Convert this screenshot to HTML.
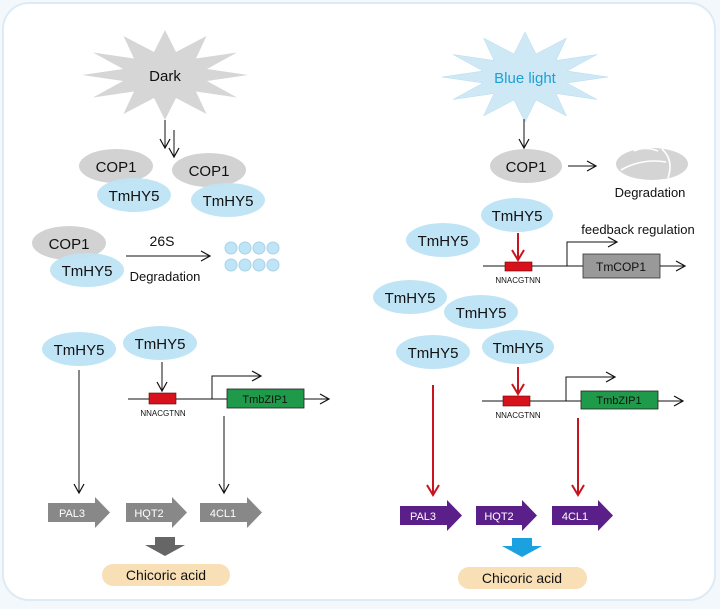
<!DOCTYPE html>
<html><head><meta charset="utf-8"><style>
html,body{margin:0;padding:0;background:#f3f8fc;}
svg{display:block;font-family:"Liberation Sans",Arial,sans-serif;}
</style></head><body>
<svg width="720" height="609" viewBox="0 0 720 609" xmlns="http://www.w3.org/2000/svg">
<defs>
<marker id="a" markerWidth="12" markerHeight="12" refX="10" refY="6" orient="auto" markerUnits="userSpaceOnUse"><path d="M1,1 L10,6 L1,11" fill="none" stroke="#111" stroke-width="1.2"/></marker>
<marker id="r" markerWidth="14" markerHeight="14" refX="11" refY="7" orient="auto" markerUnits="userSpaceOnUse"><path d="M1,1 L11,7 L1,13" fill="none" stroke="#c8141e" stroke-width="2"/></marker>
<g id="star"><polygon points="83,0 42,6 72,22.5 31,16.5 41.5,39 11,23 0,45 -11,23 -41.5,39 -31,16.5 -72,22.5 -42,6 -83,0 -42,-6 -72,-22.5 -31,-16.5 -41.5,-39 -11,-23 0,-45 11,-23 41.5,-39 31,-16.5 72,-22.5 42,-6"/></g>
</defs>
<rect x="3" y="3" width="712" height="597" rx="26" fill="#fff" stroke="#dcebf6" stroke-width="2"/>
<g font-size="15" fill="#111" text-anchor="middle">
<!-- LEFT -->
<use href="#star" transform="translate(165,75)" fill="#d6d6d6"/>
<text x="165" y="81">Dark</text>
<line x1="165" y1="120" x2="165" y2="148" stroke="#111" marker-end="url(#a)"/>
<line x1="174" y1="130" x2="174" y2="157" stroke="#111" marker-end="url(#a)"/>
<ellipse cx="116" cy="166" rx="37" ry="17" fill="#d2d2d2"/>
<ellipse cx="134" cy="195" rx="37" ry="17" fill="#bfe4f6" opacity="0.95"/>
<text x="116" y="172">COP1</text><text x="134" y="201">TmHY5</text>
<ellipse cx="209" cy="170" rx="37" ry="17" fill="#d2d2d2"/>
<ellipse cx="228" cy="200" rx="37" ry="17" fill="#bfe4f6" opacity="0.95"/>
<text x="209" y="176">COP1</text><text x="228" y="206">TmHY5</text>
<ellipse cx="69" cy="243" rx="37" ry="17" fill="#d2d2d2"/>
<ellipse cx="87" cy="270" rx="37" ry="17" fill="#bfe4f6" opacity="0.95"/>
<text x="69" y="249">COP1</text><text x="87" y="276">TmHY5</text>
<line x1="126" y1="256" x2="210" y2="256" stroke="#111" marker-end="url(#a)"/>
<text x="162" y="246" font-size="14">26S</text>
<text x="165" y="281" font-size="13">Degradation</text>
<g fill="#bfe4f6" stroke="#a9d3ea"><circle cx="231" cy="248" r="6"/><circle cx="245" cy="248" r="6"/><circle cx="259" cy="248" r="6"/><circle cx="273" cy="248" r="6"/><circle cx="231" cy="265" r="6"/><circle cx="245" cy="265" r="6"/><circle cx="259" cy="265" r="6"/><circle cx="273" cy="265" r="6"/></g>
<ellipse cx="79" cy="349" rx="37" ry="17" fill="#bfe4f6"/><text x="79" y="355">TmHY5</text>
<ellipse cx="160" cy="343" rx="37" ry="17" fill="#bfe4f6"/><text x="160" y="349">TmHY5</text>
<line x1="162" y1="362" x2="162" y2="391" stroke="#111" marker-end="url(#a)"/>
<line x1="128" y1="399" x2="227" y2="399" stroke="#111"/>
<rect x="149" y="393" width="27" height="11" fill="#d8121c" stroke="#600" stroke-width="0.6"/>
<text x="163" y="416" font-size="8">NNACGTNN</text>
<polyline points="212,399 212,376 261,376" fill="none" stroke="#111" marker-end="url(#a)"/>
<rect x="227" y="389" width="77" height="19" fill="#1f9a4a" stroke="#222" stroke-width="0.8"/>
<text x="265" y="403" font-size="11" fill="#111">TmbZIP1</text>
<line x1="304" y1="399" x2="329" y2="399" stroke="#111" marker-end="url(#a)"/>
<line x1="79" y1="370" x2="79" y2="493" stroke="#111" marker-end="url(#a)"/>
<line x1="224" y1="416" x2="224" y2="493" stroke="#111" marker-end="url(#a)"/>
<g fill="#888"><polygon points="48,503 95,503 95,497 110,512.5 95,528 95,522 48,522"/>
<polygon points="126,503 172,503 172,497 187,512.5 172,528 172,522 126,522"/>
<polygon points="200,503 247,503 247,497 262,512.5 247,528 247,522 200,522"/></g>
<g fill="#fff" font-size="11"><text x="72" y="517">PAL3</text><text x="149" y="517">HQT2</text><text x="223" y="517">4CL1</text></g>
<polygon points="155,537 175,537 175,545 185,545 165,556 145,545 155,545" fill="#666"/>
<rect x="102" y="564" width="128" height="22" rx="11" fill="#f8dfb6"/>
<text x="166" y="580" font-size="14">Chicoric acid</text>
<!-- RIGHT -->
<use href="#star" transform="translate(525,77)" fill="#cfe8f6" stroke="#b8dcee" stroke-width="0.5"/>
<text x="525" y="83" fill="#1ba1d8">Blue light</text>
<line x1="524" y1="119" x2="524" y2="148" stroke="#111" marker-end="url(#a)"/>
<ellipse cx="526" cy="166" rx="36" ry="17" fill="#d2d2d2"/><text x="526" y="172">COP1</text>
<line x1="568" y1="166" x2="596" y2="166" stroke="#111" marker-end="url(#a)"/>
<ellipse cx="652" cy="164" rx="36" ry="16" fill="#d4d4d4"/>
<path d="M621,170 Q642,158 666,162 M634,151 Q645,146 658,151 M662,149 Q674,160 668,178" fill="none" stroke="#fff" stroke-width="1.6"/>
<text x="650" y="197" font-size="13">Degradation</text>
<ellipse cx="517" cy="215" rx="36" ry="17" fill="#bfe4f6"/><text x="517" y="221">TmHY5</text>
<ellipse cx="443" cy="240" rx="37" ry="17" fill="#bfe4f6"/><text x="443" y="246">TmHY5</text>
<line x1="518" y1="233" x2="518" y2="260" stroke="#c8141e" stroke-width="2" marker-end="url(#r)"/>
<line x1="483" y1="266" x2="583" y2="266" stroke="#111"/>
<rect x="505" y="262" width="27" height="9" fill="#d8121c" stroke="#600" stroke-width="0.6"/>
<text x="518" y="283" font-size="8">NNACGTNN</text>
<polyline points="567,266 567,242 617,242" fill="none" stroke="#111" marker-end="url(#a)"/>
<text x="638" y="234" font-size="13">feedback regulation</text>
<rect x="583" y="254" width="77" height="24" fill="#999" stroke="#333" stroke-width="0.8"/>
<text x="621" y="271" font-size="12">TmCOP1</text>
<line x1="660" y1="266" x2="685" y2="266" stroke="#111" marker-end="url(#a)"/>
<ellipse cx="410" cy="297" rx="37" ry="17" fill="#bfe4f6"/><text x="410" y="303">TmHY5</text>
<ellipse cx="481" cy="312" rx="37" ry="17" fill="#bfe4f6"/><text x="481" y="318">TmHY5</text>
<ellipse cx="433" cy="352" rx="37" ry="17" fill="#bfe4f6"/><text x="433" y="358">TmHY5</text>
<ellipse cx="518" cy="347" rx="36" ry="17" fill="#bfe4f6"/><text x="518" y="353">TmHY5</text>
<line x1="518" y1="367" x2="518" y2="394" stroke="#c8141e" stroke-width="2" marker-end="url(#r)"/>
<line x1="482" y1="401" x2="581" y2="401" stroke="#111"/>
<rect x="503" y="396" width="27" height="10" fill="#d8121c" stroke="#600" stroke-width="0.6"/>
<text x="518" y="418" font-size="8">NNACGTNN</text>
<polyline points="566,401 566,377 615,377" fill="none" stroke="#111" marker-end="url(#a)"/>
<rect x="581" y="391" width="77" height="18" fill="#1f9a4a" stroke="#222" stroke-width="0.8"/>
<text x="619" y="404" font-size="11">TmbZIP1</text>
<line x1="658" y1="401" x2="683" y2="401" stroke="#111" marker-end="url(#a)"/>
<line x1="433" y1="385" x2="433" y2="495" stroke="#c8141e" stroke-width="2" marker-end="url(#r)"/>
<line x1="578" y1="418" x2="578" y2="495" stroke="#c8141e" stroke-width="2" marker-end="url(#r)"/>
<g fill="#5a1f88"><polygon points="400,506 447,506 447,500 462,515.5 447,531 447,525 400,525"/>
<polygon points="476,506 522,506 522,500 537,515.5 522,531 522,525 476,525"/>
<polygon points="552,506 598,506 598,500 613,515.5 598,531 598,525 552,525"/></g>
<g fill="#fff" font-size="11"><text x="423" y="520">PAL3</text><text x="499" y="520">HQT2</text><text x="575" y="520">4CL1</text></g>
<polygon points="512,538 532,538 532,546 542,546 522,557 502,546 512,546" fill="#1ba1e0"/>
<rect x="458" y="567" width="129" height="22" rx="11" fill="#f8dfb6"/>
<text x="522" y="583" font-size="14">Chicoric acid</text>
</g>
</svg>
</body></html>
